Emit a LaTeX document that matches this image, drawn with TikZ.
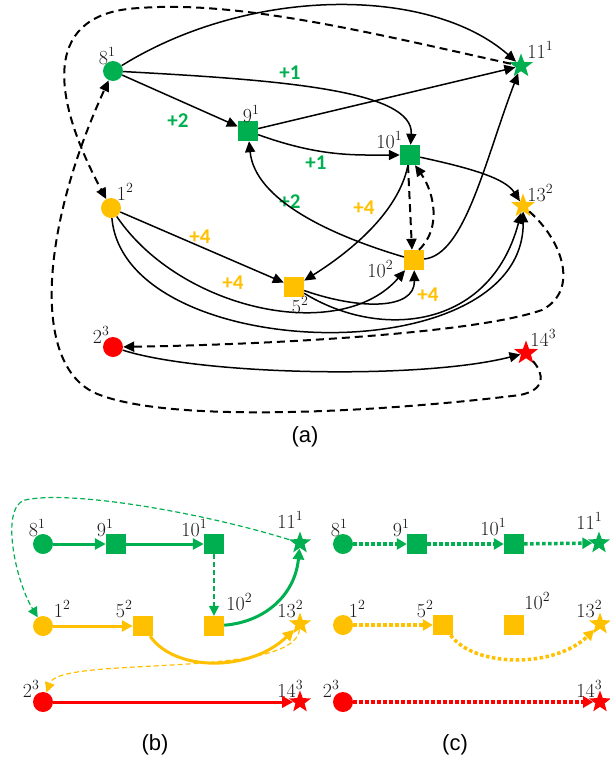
\documentclass[tikz,border=0pt]{standalone}
\usepackage{fontspec}
\newfontfamily\plusfont{Carlito}
\newfontfamily\capfont{Liberation Sans}
\usetikzlibrary{arrows.meta,shapes.geometric}
\definecolor{cg}{HTML}{00B050}
\definecolor{cy}{HTML}{FFC000}
\definecolor{cr}{HTML}{FF0000}
\definecolor{lbc}{HTML}{1A1A1A}
\newcommand\lbl[2]{#1\raisebox{8pt}{\fontsize{14}{14}\selectfont #2}}
\begin{document}
\begin{tikzpicture}[x=1pt,y=-1pt,
 dotn/.style={circle,inner sep=0,minimum size=20pt,fill=#1},
 sqn/.style={rectangle,inner sep=0,minimum size=20pt,fill=#1},
 stn/.style={star,star points=5,star point ratio=2.4,inner sep=0,minimum size=25pt,fill=#1},
 stb/.style={star,star points=5,star point ratio=2.4,inner sep=0,minimum size=23pt,fill=#1},
 lab/.style={font=\fontsize{20}{22}\selectfont,text=lbc,inner sep=0},
 inc/.style={font=\plusfont\bfseries\fontsize{21}{24}\selectfont,text=#1,inner sep=0},
 captxt/.style={font=\capfont\fontsize{22}{26}\selectfont,inner sep=0},
 ed/.style={line width=1.5pt,-{Triangle[length=11pt,width=10pt]}},
 dd/.style={line width=2pt,dash pattern=on 8pt off 5pt,-{Triangle[length=11pt,width=10pt]}},
 thk/.style={line width=3pt,draw=#1,-{Triangle[length=11pt,width=11pt]}},
 tds/.style={line width=1.2pt,draw=#1,dash pattern=on 5pt off 3pt,-{Triangle[length=10pt,width=10pt]}},
 dtt/.style={line width=3.5pt,draw=#1,dash pattern=on 3.5pt off 2.5pt,-{Triangle[length=10pt,width=11pt]}}
]
\useasboundingbox (0,0) rectangle (610,764);

% ---------- (a) ----------
\node[dotn=cg] (a8) at (113,71) {};
\node[stn=cg] (a11) at (521,66) {};
\node[sqn=cg] (a9) at (248,131) {};
\node[sqn=cg] (a10) at (410,155) {};
\node[stn=cy] (a13) at (523,206) {};
\node[dotn=cy] (a1) at (111,208) {};
\node[sqn=cy] (a5) at (294,287) {};
\node[sqn=cy] (a102) at (414,260) {};
\node[dotn=cr] (a2) at (113,347) {};
\node[stn=cr] (a14) at (526,353) {};

\node[lab] (la8) at (107,56) {\lbl{8}{1}};
\node[lab] (la9) at (251,114) {\lbl{9}{1}};
\node[lab] (la11) at (540,50) {\lbl{11}{1}};
\node[lab] (la10) at (389,140) {\lbl{10}{1}};
\node[lab] (la13) at (540,193) {\lbl{13}{2}};
\node[lab] (la1) at (125,192) {\lbl{1}{2}};
\node[lab] (la5) at (300,305) {\lbl{5}{2}};
\node[lab] (la102) at (380,269) {\lbl{10}{2}};
\node[lab] (la2) at (101,335) {\lbl{2}{3}};
\node[lab] (la14) at (543,338) {\lbl{14}{3}};

\node[inc=cg] (p1) at (290,73) {+1};
\node[inc=cg] (p2) at (178,121) {+2};
\node[inc=cg] (p3) at (316,163) {+1};
\node[inc=cg] (p4) at (290,202) {+2};
\node[inc=cy] (p5) at (364,208) {+4};
\node[inc=cy] (p6) at (200,237) {+4};
\node[inc=cy] (p7) at (233,283) {+4};
\node[inc=cy] (p8) at (428,295) {+4};

\draw[ed] (a8) .. controls (250,-14) and (430,-14) .. (a11);
\draw[ed] (a8) .. controls (280,80) and (414,90) .. (a10);
\draw[ed] (a8) -- (a9);
\draw[ed] (a9) -- (a11);
\draw[ed] (a9) .. controls (320,157) and (355,155) .. (a10);
\draw[ed] (a10) .. controls (470,168) and (505,178) .. (a13);
\draw[ed] (a10) .. controls (398,215) and (345,255) .. (a5);
\draw[dd] ([xshift=-2pt]a10.south) -- ([xshift=-2pt]a102.north);
\draw[dd] ([xshift=5pt]a102.north) .. controls (442,228) and (434,192) .. ([xshift=5pt]a10.south);
\draw[ed] (a102) .. controls (330,235) and (255,200) .. (a9);
\draw[ed] (a102) .. controls (465,255) and (485,160) .. (a11);
\draw[ed] (a1) -- (a5);
\draw[ed] (a1) .. controls (180,310) and (340,345) .. (a102);
\draw[ed] (a1) .. controls (125,365) and (525,375) .. (a13);
\draw[ed] (a5) .. controls (360,310) and (415,310) .. (a102);
\draw[ed] (a5) .. controls (380,340) and (490,330) .. (a13);
\draw[ed] (a2) .. controls (200,375) and (420,380) .. (a14);
\draw[dd] (a13) .. controls (562,240) and (580,290) .. (542,310) .. controls (470,335) and (250,345) .. (a2);
\draw[dd] (a14) .. controls (545,375) and (545,390) .. (520,395) .. controls (400,410) and (180,425) .. (100,395) .. controls (30,370) and (40,230) .. (a8);
\draw[dd] (a11) .. controls (380,35) and (240,0) .. (140,8) .. controls (45,12) and (48,90) .. (a1);

\node[captxt] (capa) at (305,437) {(a)};

% ---------- (b) ----------
\node[dotn=cg] (b8) at (43,544) {};
\node[sqn=cg] (b9) at (116,544) {};
\node[sqn=cg] (b10) at (214,544) {};
\node[stb=cg] (b11) at (300,543) {};
\node[dotn=cy] (b1) at (43,626) {};
\node[sqn=cy] (b5) at (143,626) {};
\node[sqn=cy] (b102) at (214,626) {};
\node[stb=cy] (b13) at (300,624) {};
\node[dotn=cr] (b2) at (43,702) {};
\node[stb=cr] (b14) at (300,702) {};

\node[lab] (lb8) at (37,528) {\lbl{8}{1}};
\node[lab] (lb9) at (105,528) {\lbl{9}{1}};
\node[lab] (lb10) at (194,528) {\lbl{10}{1}};
\node[lab] (lb11) at (290,520) {\lbl{11}{1}};
\node[lab] (lb1) at (62,609) {\lbl{1}{2}};
\node[lab] (lb5) at (124,609) {\lbl{5}{2}};
\node[lab] (lb102) at (239,602) {\lbl{10}{2}};
\node[lab] (lb13) at (290,609) {\lbl{13}{2}};
\node[lab] (lb2) at (31,689) {\lbl{2}{3}};
\node[lab] (lb14) at (290,689) {\lbl{14}{3}};

\draw[thk=cg] (b8) -- (b9);
\draw[thk=cg] (b9) -- (b10);
\draw[tds=cg] (b10) -- (b102);
\draw[thk=cg] (b102) .. controls (265,622) and (295,595) .. (b11);
\draw[tds=cg] (b11) .. controls (200,512) and (70,490) .. (25,500) .. controls (0,507) and (15,580) .. (b1);
\draw[thk=cy] (b1) -- (b5);
\draw[thk=cy] (b5) .. controls (175,672) and (250,672) .. (b13);
\draw[tds=cy] (b13) .. controls (295,680) and (60,655) .. (b2);
\draw[thk=cr] (b2) -- (b14);

\node[captxt] (capb) at (155,745) {(b)};

% ---------- (c) ----------
\node[dotn=cg] (c8) at (343,544) {};
\node[sqn=cg] (c9) at (417,544) {};
\node[sqn=cg] (c10) at (514,544) {};
\node[stb=cg] (c11) at (599,543) {};
\node[dotn=cy] (c1) at (343,625) {};
\node[sqn=cy] (c5) at (443,625) {};
\node[sqn=cy] (c102) at (514,625) {};
\node[stb=cy] (c13) at (600,624) {};
\node[dotn=cr] (c2) at (343,702) {};
\node[stb=cr] (c14) at (600,702) {};

\node[lab] (lc8) at (339,528) {\lbl{8}{1}};
\node[lab] (lc9) at (401,528) {\lbl{9}{1}};
\node[lab] (lc10) at (493,527) {\lbl{10}{1}};
\node[lab] (lc11) at (589,521) {\lbl{11}{1}};
\node[lab] (lc1) at (357,609) {\lbl{1}{2}};
\node[lab] (lc5) at (425,609) {\lbl{5}{2}};
\node[lab] (lc102) at (537,601) {\lbl{10}{2}};
\node[lab] (lc13) at (589,609) {\lbl{13}{2}};
\node[lab] (lc2) at (331,689) {\lbl{2}{3}};
\node[lab] (lc14) at (589,689) {\lbl{14}{3}};

\draw[dtt=cg] (c8) -- (c9);
\draw[dtt=cg] (c9) -- (c10);
\draw[dtt=cg] (c10) -- (c11);
\draw[dtt=cy] (c1) -- (c5);
\draw[dtt=cy] (c5) .. controls (475,668) and (555,668) .. (c13);
\draw[dtt=cr] (c2) -- (c14);

\node[captxt] (capc) at (455,745) {(c)};
\end{tikzpicture}
\end{document}
